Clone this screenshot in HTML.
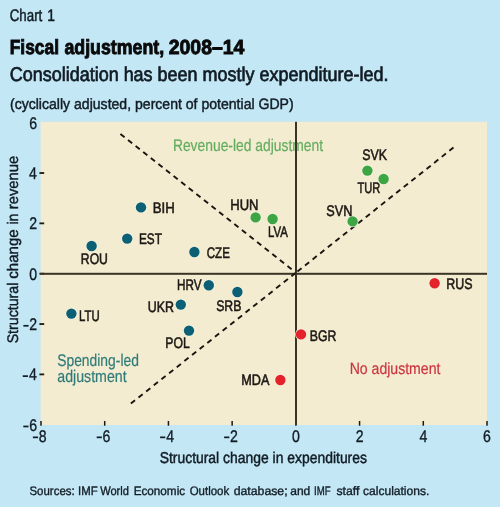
<!DOCTYPE html>
<html><head><meta charset="utf-8"><style>
html,body{margin:0;padding:0;background:#c4e7f6;}
svg{display:block;will-change:transform;font-family:"Liberation Sans",sans-serif;}
</style></head><body>
<svg width="500" height="507" viewBox="0 0 500 507" text-rendering="geometricPrecision">
<rect width="500" height="507" fill="#c4e7f6"/>
<text x="9.73" y="21.40" font-size="16.80" fill="#111c24" stroke="#111c24" stroke-width="0.5" textLength="32.54" lengthAdjust="spacingAndGlyphs">Chart</text>
<text x="47.15" y="21.40" font-size="16.80" fill="#111c24" stroke="#111c24" stroke-width="0.5" textLength="7.76" lengthAdjust="spacingAndGlyphs">1</text>
<text x="9.77" y="53.70" font-size="20.40" fill="#0a0a0a" stroke="#0a0a0a" stroke-width="0.9" font-weight="bold" textLength="49.23" lengthAdjust="spacingAndGlyphs">Fiscal</text>
<text x="64.47" y="53.70" font-size="20.40" fill="#0a0a0a" stroke="#0a0a0a" stroke-width="0.9" font-weight="bold" textLength="99.62" lengthAdjust="spacingAndGlyphs">adjustment,</text>
<text x="168.72" y="53.70" font-size="20.40" fill="#0a0a0a" stroke="#0a0a0a" stroke-width="0.9" font-weight="bold" textLength="75.64" lengthAdjust="spacingAndGlyphs">2008–14</text>
<text x="9.70" y="80.50" font-size="19.90" fill="#111c24" stroke="#111c24" stroke-width="0.7" textLength="378.79" lengthAdjust="spacingAndGlyphs">Consolidation has been mostly expenditure-led.</text>
<text x="9.96" y="109.40" font-size="15.00" fill="#111c24" stroke="#111c24" stroke-width="0.45" textLength="283.70" lengthAdjust="spacingAndGlyphs">(cyclically adjusted, percent of potential GDP)</text>
<text x="29.49" y="495.10" font-size="12.30" fill="#111c24" stroke="#111c24" stroke-width="0.35" textLength="45.16" lengthAdjust="spacingAndGlyphs">Sources:</text>
<text x="78.08" y="495.10" font-size="12.30" fill="#111c24" stroke="#111c24" stroke-width="0.35" textLength="19.60" lengthAdjust="spacingAndGlyphs">IMF</text>
<text x="100.14" y="495.10" font-size="12.30" fill="#111c24" stroke="#111c24" stroke-width="0.35" textLength="28.82" lengthAdjust="spacingAndGlyphs">World</text>
<text x="133.66" y="495.10" font-size="12.30" fill="#111c24" stroke="#111c24" stroke-width="0.35" textLength="51.44" lengthAdjust="spacingAndGlyphs">Economic</text>
<text x="189.68" y="495.10" font-size="12.30" fill="#111c24" stroke="#111c24" stroke-width="0.35" textLength="39.53" lengthAdjust="spacingAndGlyphs">Outlook</text>
<text x="233.71" y="495.10" font-size="12.30" fill="#111c24" stroke="#111c24" stroke-width="0.35" textLength="53.87" lengthAdjust="spacingAndGlyphs">database;</text>
<text x="290.26" y="495.10" font-size="12.30" fill="#111c24" stroke="#111c24" stroke-width="0.35" textLength="20.07" lengthAdjust="spacingAndGlyphs">and</text>
<text x="314.03" y="495.10" font-size="12.30" fill="#111c24" stroke="#111c24" stroke-width="0.35" textLength="16.57" lengthAdjust="spacingAndGlyphs">IMF</text>
<text x="336.43" y="495.10" font-size="12.30" fill="#111c24" stroke="#111c24" stroke-width="0.35" textLength="22.93" lengthAdjust="spacingAndGlyphs">staff</text>
<text x="363.06" y="495.10" font-size="12.30" fill="#111c24" stroke="#111c24" stroke-width="0.35" textLength="66.26" lengthAdjust="spacingAndGlyphs">calculations.</text>
<rect x="40.6" y="121.8" width="446.4" height="303.2" fill="#f3ecd0"/>
<text x="172.89" y="150.80" font-size="16.80" fill="#63ac5f" stroke="#63ac5f" stroke-width="0.2" textLength="150.25" lengthAdjust="spacingAndGlyphs">Revenue-led adjustment</text>
<text x="57.18" y="366.00" font-size="16.80" fill="#2f7b7a" stroke="#2f7b7a" stroke-width="0.2" textLength="81.71" lengthAdjust="spacingAndGlyphs">Spending-led</text>
<text x="57.26" y="382.20" font-size="16.80" fill="#2f7b7a" stroke="#2f7b7a" stroke-width="0.2" textLength="69.43" lengthAdjust="spacingAndGlyphs">adjustment</text>
<text x="349.67" y="374.20" font-size="16.20" fill="#cc3540" stroke="#cc3540" stroke-width="0.2" textLength="90.74" lengthAdjust="spacingAndGlyphs">No adjustment</text>
<rect x="40.25" y="421" width="1.5" height="4.7" fill="#1c1814"/>
<rect x="103.96" y="421" width="1.5" height="4.7" fill="#1c1814"/>
<rect x="167.68" y="421" width="1.5" height="4.7" fill="#1c1814"/>
<rect x="231.39" y="421" width="1.5" height="4.7" fill="#1c1814"/>
<rect x="295.11" y="421" width="1.5" height="4.7" fill="#1c1814"/>
<rect x="358.82" y="421" width="1.5" height="4.7" fill="#1c1814"/>
<rect x="422.53" y="421" width="1.5" height="4.7" fill="#1c1814"/>
<rect x="486.25" y="421" width="1.5" height="4.7" fill="#1c1814"/>
<rect x="39.4" y="373.48" width="4.8" height="1.8" fill="#1c1814"/>
<rect x="39.4" y="323.14" width="4.8" height="1.8" fill="#1c1814"/>
<rect x="39.4" y="272.80" width="4.8" height="1.8" fill="#1c1814"/>
<rect x="39.4" y="222.46" width="4.8" height="1.8" fill="#1c1814"/>
<rect x="39.4" y="172.12" width="4.8" height="1.8" fill="#1c1814"/>
<rect x="40.5" y="272.8" width="446.5" height="2" fill="#3a3426"/>
<rect x="295" y="121.8" width="2" height="303.2" fill="#3a3426"/>
<line x1="120.42" y1="133.95" x2="291.6" y2="269.3" stroke="#1a1410" stroke-width="1.9" stroke-dasharray="5.3 4.38"/>
<line x1="130.87" y1="403.55" x2="296" y2="272.6" stroke="#1a1410" stroke-width="1.9" stroke-dasharray="5.3 4.457"/>
<line x1="453.5" y1="147.55" x2="296" y2="272.6" stroke="#1a1410" stroke-width="1.9" stroke-dasharray="5.3 4.4"/>
<circle cx="141" cy="207.4" r="5.8" fill="#f6f6e4"/>
<circle cx="141" cy="207.4" r="5.2" fill="#0b6076"/>
<circle cx="127.2" cy="238.6" r="5.8" fill="#f6f6e4"/>
<circle cx="127.2" cy="238.6" r="5.2" fill="#0b6076"/>
<circle cx="91.6" cy="246" r="5.8" fill="#f6f6e4"/>
<circle cx="91.6" cy="246" r="5.2" fill="#0b6076"/>
<circle cx="194.4" cy="252" r="5.8" fill="#f6f6e4"/>
<circle cx="194.4" cy="252" r="5.2" fill="#0b6076"/>
<circle cx="208.8" cy="285.2" r="5.8" fill="#f6f6e4"/>
<circle cx="208.8" cy="285.2" r="5.2" fill="#0b6076"/>
<circle cx="237.4" cy="292" r="5.8" fill="#f6f6e4"/>
<circle cx="237.4" cy="292" r="5.2" fill="#0b6076"/>
<circle cx="180.8" cy="304.6" r="5.8" fill="#f6f6e4"/>
<circle cx="180.8" cy="304.6" r="5.2" fill="#0b6076"/>
<circle cx="189" cy="330.6" r="5.8" fill="#f6f6e4"/>
<circle cx="189" cy="330.6" r="5.2" fill="#0b6076"/>
<circle cx="71.4" cy="313.6" r="5.8" fill="#f6f6e4"/>
<circle cx="71.4" cy="313.6" r="5.2" fill="#0b6076"/>
<circle cx="255.6" cy="217.4" r="5.8" fill="#f6f6e4"/>
<circle cx="255.6" cy="217.4" r="5.2" fill="#3da544"/>
<circle cx="272.6" cy="219" r="5.8" fill="#f6f6e4"/>
<circle cx="272.6" cy="219" r="5.2" fill="#3da544"/>
<circle cx="367.4" cy="170.6" r="5.8" fill="#f6f6e4"/>
<circle cx="367.4" cy="170.6" r="5.2" fill="#3da544"/>
<circle cx="383.6" cy="179" r="5.8" fill="#f6f6e4"/>
<circle cx="383.6" cy="179" r="5.2" fill="#3da544"/>
<circle cx="352.6" cy="221.4" r="5.8" fill="#f6f6e4"/>
<circle cx="352.6" cy="221.4" r="5.2" fill="#3da544"/>
<circle cx="434.6" cy="283.2" r="5.8" fill="#f6f6e4"/>
<circle cx="434.6" cy="283.2" r="5.2" fill="#e3222c"/>
<circle cx="301" cy="334.4" r="5.8" fill="#f6f6e4"/>
<circle cx="301" cy="334.4" r="5.2" fill="#e3222c"/>
<circle cx="280.4" cy="380" r="5.8" fill="#f6f6e4"/>
<circle cx="280.4" cy="380" r="5.2" fill="#e3222c"/>
<text x="152.74" y="213.40" font-size="15.20" fill="#1c1814" stroke="#1c1814" stroke-width="0.55" textLength="22.04" lengthAdjust="spacingAndGlyphs">BIH</text>
<text x="138.95" y="243.90" font-size="15.20" fill="#1c1814" stroke="#1c1814" stroke-width="0.55" textLength="22.98" lengthAdjust="spacingAndGlyphs">EST</text>
<text x="80.82" y="264.30" font-size="15.20" fill="#1c1814" stroke="#1c1814" stroke-width="0.55" textLength="27.12" lengthAdjust="spacingAndGlyphs">ROU</text>
<text x="206.72" y="257.70" font-size="15.20" fill="#1c1814" stroke="#1c1814" stroke-width="0.55" textLength="23.14" lengthAdjust="spacingAndGlyphs">CZE</text>
<text x="176.96" y="289.70" font-size="15.20" fill="#1c1814" stroke="#1c1814" stroke-width="0.55" textLength="24.54" lengthAdjust="spacingAndGlyphs">HRV</text>
<text x="216.15" y="310.70" font-size="15.20" fill="#1c1814" stroke="#1c1814" stroke-width="0.55" textLength="25.28" lengthAdjust="spacingAndGlyphs">SRB</text>
<text x="147.77" y="311.70" font-size="15.20" fill="#1c1814" stroke="#1c1814" stroke-width="0.55" textLength="26.21" lengthAdjust="spacingAndGlyphs">UKR</text>
<text x="165.32" y="348.30" font-size="15.20" fill="#1c1814" stroke="#1c1814" stroke-width="0.55" textLength="24.46" lengthAdjust="spacingAndGlyphs">POL</text>
<text x="78.99" y="321.30" font-size="15.20" fill="#1c1814" stroke="#1c1814" stroke-width="0.55" textLength="20.66" lengthAdjust="spacingAndGlyphs">LTU</text>
<text x="230.26" y="210.30" font-size="15.20" fill="#1c1814" stroke="#1c1814" stroke-width="0.55" textLength="28.20" lengthAdjust="spacingAndGlyphs">HUN</text>
<text x="267.99" y="237.10" font-size="15.20" fill="#1c1814" stroke="#1c1814" stroke-width="0.55" textLength="19.83" lengthAdjust="spacingAndGlyphs">LVA</text>
<text x="362.14" y="160.30" font-size="15.20" fill="#1c1814" stroke="#1c1814" stroke-width="0.55" textLength="24.80" lengthAdjust="spacingAndGlyphs">SVK</text>
<text x="357.48" y="192.70" font-size="15.20" fill="#1c1814" stroke="#1c1814" stroke-width="0.55" textLength="22.82" lengthAdjust="spacingAndGlyphs">TUR</text>
<text x="326.33" y="215.70" font-size="15.20" fill="#1c1814" stroke="#1c1814" stroke-width="0.55" textLength="26.10" lengthAdjust="spacingAndGlyphs">SVN</text>
<text x="446.30" y="288.50" font-size="15.20" fill="#1c1814" stroke="#1c1814" stroke-width="0.55" textLength="26.27" lengthAdjust="spacingAndGlyphs">RUS</text>
<text x="309.72" y="340.60" font-size="15.20" fill="#1c1814" stroke="#1c1814" stroke-width="0.55" textLength="26.66" lengthAdjust="spacingAndGlyphs">BGR</text>
<text x="241.29" y="384.50" font-size="15.20" fill="#1c1814" stroke="#1c1814" stroke-width="0.55" textLength="28.14" lengthAdjust="spacingAndGlyphs">MDA</text>
<rect x="32.88" y="436.5" width="5.2" height="1.7" fill="#111c24"/>
<text x="38.85" y="441.70" font-size="16.80" fill="#111c24" stroke="#111c24" stroke-width="0.35" textLength="7.85" lengthAdjust="spacingAndGlyphs">8</text>
<rect x="96.67" y="436.5" width="5.2" height="1.7" fill="#111c24"/>
<text x="102.56" y="441.70" font-size="16.80" fill="#111c24" stroke="#111c24" stroke-width="0.35" textLength="7.85" lengthAdjust="spacingAndGlyphs">6</text>
<rect x="160.10" y="436.5" width="5.2" height="1.7" fill="#111c24"/>
<text x="166.35" y="441.70" font-size="16.80" fill="#111c24" stroke="#111c24" stroke-width="0.35" textLength="7.85" lengthAdjust="spacingAndGlyphs">4</text>
<rect x="224.13" y="436.5" width="5.2" height="1.7" fill="#111c24"/>
<text x="230.03" y="441.70" font-size="16.80" fill="#111c24" stroke="#111c24" stroke-width="0.35" textLength="7.85" lengthAdjust="spacingAndGlyphs">2</text>
<text x="291.94" y="441.70" font-size="16.80" fill="#111c24" stroke="#111c24" stroke-width="0.35" textLength="7.85" lengthAdjust="spacingAndGlyphs">0</text>
<text x="355.65" y="441.70" font-size="16.80" fill="#111c24" stroke="#111c24" stroke-width="0.35" textLength="7.85" lengthAdjust="spacingAndGlyphs">2</text>
<text x="419.40" y="441.70" font-size="16.80" fill="#111c24" stroke="#111c24" stroke-width="0.35" textLength="7.85" lengthAdjust="spacingAndGlyphs">4</text>
<text x="483.05" y="441.70" font-size="16.80" fill="#111c24" stroke="#111c24" stroke-width="0.35" textLength="7.85" lengthAdjust="spacingAndGlyphs">6</text>
<text x="29.20" y="430.62" font-size="16.80" fill="#111c24" stroke="#111c24" stroke-width="0.35" textLength="7.85" lengthAdjust="spacingAndGlyphs">6</text>
<rect x="23.31" y="425.62" width="5.2" height="1.7" fill="#111c24"/>
<text x="28.99" y="380.28" font-size="16.80" fill="#111c24" stroke="#111c24" stroke-width="0.35" textLength="7.85" lengthAdjust="spacingAndGlyphs">4</text>
<rect x="22.74" y="375.28" width="5.2" height="1.7" fill="#111c24"/>
<text x="29.27" y="329.94" font-size="16.80" fill="#111c24" stroke="#111c24" stroke-width="0.35" textLength="7.85" lengthAdjust="spacingAndGlyphs">2</text>
<rect x="23.38" y="324.94" width="5.2" height="1.7" fill="#111c24"/>
<text x="29.13" y="279.60" font-size="16.80" fill="#111c24" stroke="#111c24" stroke-width="0.35" textLength="7.85" lengthAdjust="spacingAndGlyphs">0</text>
<text x="29.27" y="229.26" font-size="16.80" fill="#111c24" stroke="#111c24" stroke-width="0.35" textLength="7.85" lengthAdjust="spacingAndGlyphs">2</text>
<text x="28.99" y="178.92" font-size="16.80" fill="#111c24" stroke="#111c24" stroke-width="0.35" textLength="7.85" lengthAdjust="spacingAndGlyphs">4</text>
<text x="29.20" y="128.58" font-size="16.80" fill="#111c24" stroke="#111c24" stroke-width="0.35" textLength="7.85" lengthAdjust="spacingAndGlyphs">6</text>
<text x="159.67" y="462.60" font-size="15.70" fill="#111c24" stroke="#111c24" stroke-width="0.45" textLength="207.29" lengthAdjust="spacingAndGlyphs">Structural change in expenditures</text>
<text x="-0.64" y="0.00" font-size="15.30" fill="#111c24" stroke="#111c24" stroke-width="0.4" textLength="60.62" lengthAdjust="spacingAndGlyphs" transform="translate(17.9 342.7) rotate(-90)">Structural</text>
<text x="63.92" y="0.00" font-size="15.30" fill="#111c24" stroke="#111c24" stroke-width="0.4" textLength="49.47" lengthAdjust="spacingAndGlyphs" transform="translate(17.9 342.7) rotate(-90)">change</text>
<text x="118.08" y="0.00" font-size="15.30" fill="#111c24" stroke="#111c24" stroke-width="0.4" textLength="10.98" lengthAdjust="spacingAndGlyphs" transform="translate(17.9 342.7) rotate(-90)">in</text>
<text x="133.44" y="0.00" font-size="15.30" fill="#111c24" stroke="#111c24" stroke-width="0.4" textLength="53.62" lengthAdjust="spacingAndGlyphs" transform="translate(17.9 342.7) rotate(-90)">revenue</text>
</svg>
</body></html>
